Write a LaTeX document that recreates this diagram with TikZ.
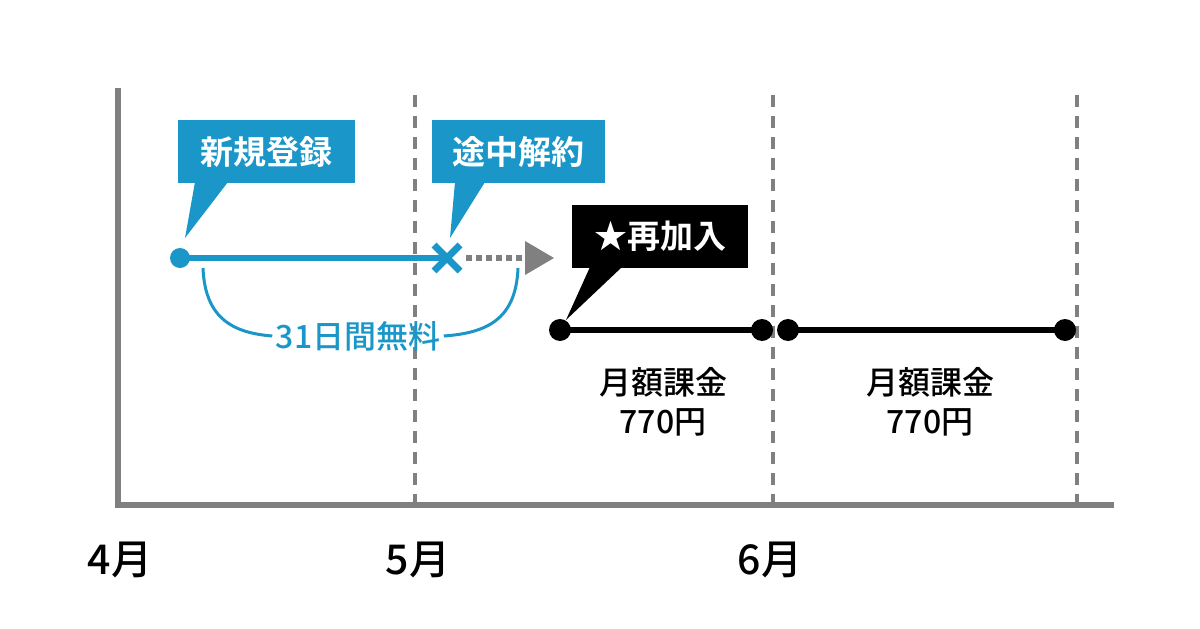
\documentclass[tikz,border=0pt]{standalone}
\usepackage{fontspec}
\setmainfont{Noto Sans CJK JP}
\newfontfamily\jpb{Noto Sans CJK JP Bold}
\newfontfamily\jpm{Noto Sans CJK JP Medium}
\begin{document}
\begin{tikzpicture}[x=1pt,y=-1pt,
  axisline/.style={line width=6pt,draw=axgray},
  guide/.style={line width=3.5pt,draw=axgray,dash pattern=on 12pt off 9pt},
  monthlabel/.style={font=\jpm\fontsize{41}{44}\selectfont,text=black},
  callout/.style={font=\jpb\fontsize{33}{36}\selectfont,text=white,minimum height=63pt,inner xsep=14pt,anchor=north west},
  fee/.style={font=\jpm\fontsize{32}{39}\selectfont,align=center,text=black},
  dotb/.style={circle,fill=cblue,minimum size=20pt,inner sep=0pt},
  dotk/.style={circle,fill=black,minimum size=22pt,inner sep=0pt}]
\definecolor{axgray}{HTML}{808080}
\definecolor{cblue}{HTML}{1A96C8}
\useasboundingbox (0,0) rectangle (1200,629);
% axes
\coordinate (ytop) at (118,88);
\coordinate (orig) at (118,505);
\coordinate (xend) at (1114,505);
\draw[axisline] (ytop) -- (orig) -- (xend);
\foreach \x/\n in {415/a,773/b,1077/c}{
  \coordinate (g\n t) at (\x,95); \coordinate (g\n b) at (\x,503);
  \draw[guide] (g\n t) -- (g\n b);}
\node[monthlabel] (m4) at (120,560) {4月};
\node[monthlabel] (m5) at (418,560) {5月};
\node[monthlabel] (m6) at (770,560) {6月};
% blue callouts
\node[callout,fill=cblue,minimum width=177pt] (reg) at (178,120) {新規登録};
\fill[cblue] (195,182) -- (228,182) -- (185,238) -- cycle;
\node[callout,fill=cblue,minimum width=173pt] (can) at (432,120) {途中解約};
\fill[cblue] (455,182) -- (485,182) -- (450,238) -- cycle;
% blue line
\node[dotb] (s) at (180,258) {};
\coordinate (xc) at (447,258);
\draw[cblue,line width=6.5pt] (s.center) -- (xc);
\draw[cblue,line width=7pt] (434,245) -- (460,271) (434,271) -- (460,245);
% dotted arrow
\coordinate (da) at (466,258); \coordinate (db) at (527,258);
\draw[axgray,line width=6pt,dash pattern=on 6pt off 4pt] (da) -- (db);
\fill[axgray] (525,241) -- (554,258) -- (525,275) -- cycle;
% brace curves
\node[font=\jpm\fontsize{32}{36}\selectfont,text=cblue] (free) at (358,336) {31日間無料};
\draw[cblue,line width=3pt] (203,268) .. controls (205,320) and (235,333) .. (free.west);
\draw[cblue,line width=3pt] (518,268) .. controls (516,320) and (486,333) .. (free.east);
% black callout
\node[callout,fill=black,minimum width=176pt,inner xsep=8pt] (rej) at (572,205) {★再加入};
\fill[black] (590,267) -- (622,267) -- (566,320) -- cycle;
% black lines
\node[dotk] (p1) at (560,330) {};
\node[dotk] (p2) at (762,330) {};
\node[dotk] (p3) at (788,330) {};
\node[dotk] (p4) at (1065,330) {};
\draw[line width=6pt] (p1.center) -- (p2.center);
\draw[line width=6pt] (p3.center) -- (p4.center);
\node[fee] (f1) at (663,402) {月額課金\\770円};
\node[fee] (f2) at (930,402) {月額課金\\770円};
\end{tikzpicture}
\end{document}
